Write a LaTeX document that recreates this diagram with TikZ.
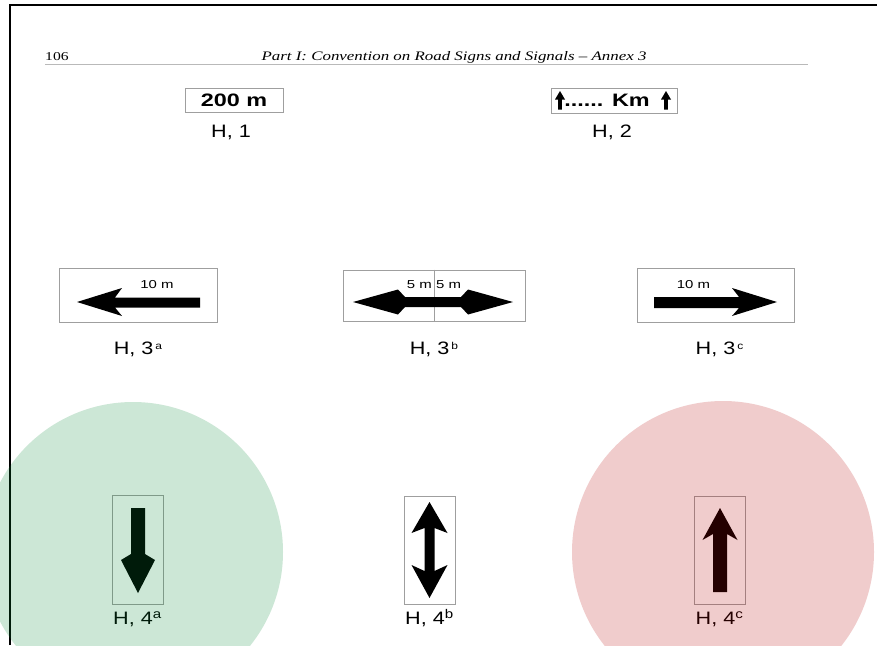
\documentclass[tikz,border=0pt]{standalone}
\usepackage{fontspec}
\setmainfont{Liberation Serif}
\newfontfamily\signfont[FakeStretch=1.2]{Liberation Sans}
\newfontfamily\platefont[FakeStretch=1.3]{Liberation Sans}
\newfontfamily\smallfont[FakeStretch=1.3]{Liberation Sans}
\newfontfamily\pagefont[FakeStretch=1.3]{Liberation Serif}
\usetikzlibrary{positioning}
\definecolor{okgreen}{rgb}{0,0.53,0.2}
\definecolor{badred}{rgb}{0.72,0,0}
\newcommand{\supa}[1]{\kern2pt\raisebox{5.5pt}{\fontsize{10}{10}\selectfont #1}}

\begin{document}
\begin{tikzpicture}[
  x=1pt, y=-1pt,
  sign/.style={draw=gray!75, line width=1pt, inner sep=0pt},
  plate/.style={sign, font=\platefont\bfseries\fontsize{18}{18}\selectfont},
  lab/.style={font=\signfont\fontsize{18}{18}\selectfont, inner sep=0pt,
              text height=13pt, text depth=3pt},
  dist/.style={font=\smallfont\fontsize{11.5}{11.5}\selectfont, inner sep=0pt},
  head/.style={font=\pagefont\fontsize{12}{12}\selectfont, inner sep=0pt},
  bar/.style={fill=black}
]
  \clip (0,0) rectangle (877,645);
  \fill[white] (0,0) rectangle (877,645);

  % page header
  \node[head, anchor=base west] (num) at (45,60) {106};
  \node[head, anchor=base, font=\pagefont\fontsize{13}{13}\selectfont] (title) at (454,60)
    {\itshape Part I: Convention on Road Signs and Signals \textendash{} Annex 3};
  \draw[gray!55, line width=1.5pt] (45,64.5) -- (808,64.5);

  % H, 1 and H, 2
  \node[plate, minimum width=98pt, minimum height=24pt] (s1) at (234,100) {200 m};
  \node[sign, minimum width=126pt, minimum height=25pt] (s2) at (614,100.5) {};
  \node[plate, draw=none] (km) at ([xshift=-7pt]s2.center) {...... Km};
  \begin{scope}[shift={(s2.center)}]
    \foreach \ax in {-54,52}
      \fill[bar, xshift=\ax] (0,-9.5) -- (5,-1) -- (1.8,-1) -- (1.8,9)
        -- (-1.8,9) -- (-1.8,-1) -- (-5,-1) -- cycle;
  \end{scope}
  \node[lab, below=12pt of s1, xshift=-3pt] (l1) {H, 1};
  \node[lab, below=11pt of s2, xshift=-2pt] (l2) {H, 2};

  % H, 3 a/b/c
  \node[sign, minimum width=158pt, minimum height=54pt] (s3a) at (138,295) {};
  \node[sign, minimum width=182pt, minimum height=51pt] (s3b) at (434,295.5) {};
  \node[sign, minimum width=157pt, minimum height=54pt] (s3c) at (715.5,295) {};
  \draw[gray!75, line width=1pt] (s3b.north) -- (s3b.south);

  \begin{scope}[shift={(s3a.center)}]
    \fill[bar] (-61,7) -- (-16,-7) -- (-23,2.5) -- (62,2.5) -- (62,12.5)
      -- (-23,12.5) -- (-16,21) -- cycle;
  \end{scope}
  \begin{scope}[shift={(s3b.center)}]
    \fill[bar] (-81,6.5) -- (-36,-6) -- (-29,1.5) -- (27,1.5) -- (34,-6)
      -- (79,6.5) -- (34,19) -- (27,11.5) -- (-29,11.5) -- (-36,19) -- cycle;
  \end{scope}
  \begin{scope}[shift={(s3c.center)}]
    \fill[bar] (61.5,7) -- (16.5,-7) -- (23.5,2) -- (-61.5,2) -- (-61.5,13)
      -- (23.5,13) -- (16.5,21) -- cycle;
  \end{scope}

  \node[dist] (d3a) at ([xshift=19pt, yshift=10pt]s3a.center) {10 m};
  \node[dist, anchor=east] (d3bl) at ([xshift=-2pt, yshift=11pt]s3b.center) {5 m};
  \node[dist, anchor=west] (d3br) at ([xshift=2pt, yshift=11pt]s3b.center) {5 m};
  \node[dist] (d3c) at ([xshift=-22pt, yshift=10pt]s3c.center) {10 m};

  \node[lab, below=19pt of s3a] (l3a) {H, 3\supa{a}};
  \node[lab, below=20pt of s3b] (l3b) {H, 3\supa{b}};
  \node[lab, below=19pt of s3c, xshift=4pt] (l3c) {H, 3\supa{c}};

  % H, 4 a/b/c
  \node[sign, minimum width=51pt, minimum height=109pt] (s4a) at (137.5,549.5) {};
  \node[sign, minimum width=51pt, minimum height=108pt] (s4b) at (429.5,550) {};
  \node[sign, minimum width=51pt, minimum height=108pt] (s4c) at (719.5,550) {};

  \begin{scope}[shift={(s4a.center)}]
    \fill[bar] (0.5,43.5) -- (-16.5,10.5) -- (-6.5,4.5) -- (-6.5,-41.5)
      -- (7.5,-41.5) -- (7.5,4.5) -- (17.5,10.5) -- cycle;
  \end{scope}
  \begin{scope}[shift={(s4b.center)}]
    \fill[bar] (0,-48) -- (18,-17) -- (5,-22) -- (5,21) -- (18,15)
      -- (0,48) -- (-18,15) -- (-5,21) -- (-5,-22) -- (-18,-17) -- cycle;
  \end{scope}
  \begin{scope}[shift={(s4c.center)}]
    \fill[bar] (0.5,-42) -- (18,-10) -- (7.5,-16) -- (7.5,42) -- (-6.5,42)
      -- (-6.5,-16) -- (-17,-10) -- cycle;
  \end{scope}

  \node[lab, below=7pt of s4a] (l4a) {H, 4\textsuperscript{a}};
  \node[lab, below=7pt of s4b] (l4b) {H, 4\textsuperscript{b}};
  \node[lab, below=7pt of s4c] (l4c) {H, 4\textsuperscript{c}};

  % frame
  \draw[line width=2pt] (10,645) -- (10,5);
  \draw[line width=2.5pt] (9,5) -- (877,5);

  % highlight discs
  \fill[okgreen, fill opacity=0.2] (133,552) circle[radius=150];
  \fill[badred, fill opacity=0.2] (723,552) circle[radius=151];
\end{tikzpicture}
\end{document}
